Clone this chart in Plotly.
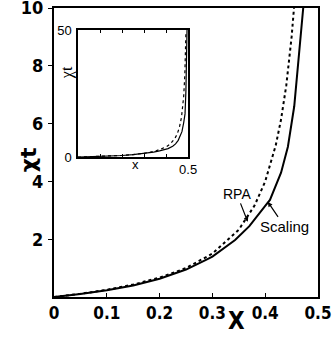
import plotly.graph_objects as go

# Data
rpa_x = [0, 0.05, 0.1, 0.15, 0.2, 0.25, 0.3, 0.35, 0.38, 0.4, 0.42, 0.43, 0.44, 0.45, 0.455, 0.46, 0.47, 0.48, 0.485, 0.49]
rpa_y = [0, 0.11, 0.25, 0.43, 0.67, 1.0, 1.5, 2.33, 3.17, 4.0, 5.25, 6.14, 7.33, 9.0, 10.1, 11.5, 15.7, 24.0, 32.3, 49.0]
sc_x = [0, 0.05, 0.1, 0.15, 0.2, 0.25, 0.286, 0.3, 0.343, 0.37, 0.4, 0.409, 0.43, 0.443, 0.455, 0.462, 0.468, 0.472, 0.48, 0.486, 0.49, 0.493, 0.495]
sc_y = [0, 0.1, 0.23, 0.4, 0.63, 0.95, 1.27, 1.4, 1.97, 2.45, 3.15, 3.36, 4.3, 5.2, 6.6, 8.0, 9.0, 10.0, 13.6, 17.0, 26.0, 35.0, 50.0]
x_ticks = [0, 0.1, 0.2, 0.3, 0.4, 0.5]
x_ticktext = ["0", "0.1", "0.2", "0.3", "0.4", "0.5"]
y_ticks = [2, 4, 6, 8, 10]
inset_x_ticks = [0, 0.1, 0.2, 0.3, 0.4, 0.5]
inset_x_ticktext = ["", "", "", "", "", "0.5"]
inset_y_ticks = [0, 50]

BOLD = "Liberation Sans Narrow, DejaVu Sans Condensed, sans-serif"
SANS = "Liberation Sans, Arial, sans-serif"

fig = go.Figure()
line_col = "black"
fig.add_trace(go.Scatter(x=rpa_x, y=rpa_y, mode="lines", line=dict(color=line_col, width=2, dash="dot"), showlegend=False))
fig.add_trace(go.Scatter(x=sc_x, y=sc_y, mode="lines", line=dict(color=line_col, width=2), showlegend=False))
fig.add_trace(go.Scatter(x=rpa_x, y=rpa_y, mode="lines", xaxis="x2", yaxis="y2", line=dict(color=line_col, width=1.2, dash="dot"), showlegend=False))
fig.add_trace(go.Scatter(x=sc_x, y=sc_y, mode="lines", xaxis="x2", yaxis="y2", line=dict(color=line_col, width=1.2), showlegend=False))

fig.update_layout(
    width=332, height=339,
    margin=dict(l=54, r=14, t=8, b=42, autoexpand=False),
    paper_bgcolor="white", plot_bgcolor="white",
    xaxis=dict(range=[0, 0.5], tickvals=x_ticks, ticktext=x_ticktext, ticks="inside", ticklen=4,
               tickcolor="black", showline=True, linecolor="black", linewidth=2, mirror=True,
               showgrid=False, zeroline=False, automargin=False, ticklabeloverflow="allow",
               ticklabelstandoff=0,
               tickfont=dict(family=BOLD, size=17, color="black", weight="bold")),
    yaxis=dict(range=[0, 10], tickvals=y_ticks, ticks="outside", ticklen=4, tickcolor="black",
               showline=True, linecolor="black", linewidth=2, mirror=True,
               showgrid=False, zeroline=False, automargin=False, ticklabeloverflow="allow",
               ticklabelstandoff=1,
               tickfont=dict(family=BOLD, size=18, color="black", weight="bold")),
    xaxis2=dict(domain=[0.091, 0.508], anchor="y2", range=[0, 0.5], tickvals=inset_x_ticks,
                ticktext=inset_x_ticktext, ticks="inside", ticklen=3, tickcolor="black",
                showline=True, linecolor="black", linewidth=1.5, mirror="allticks",
                showgrid=False, zeroline=False, automargin=False, ticklabeloverflow="allow",
                tickfont=dict(family=SANS, size=13, color="black")),
    yaxis2=dict(domain=[0.484, 0.924], anchor="x2", range=[0, 50], tickvals=inset_y_ticks,
                ticks="", showline=True, linecolor="black", linewidth=1.5, mirror=True,
                showgrid=False, zeroline=False, ticklabelstandoff=2, automargin=False,
                ticklabeloverflow="allow",
                tickfont=dict(family=SANS, size=13, color="black")),
    annotations=[
        dict(text="X", xref="paper", yref="paper", x=0.692, y=-0.083, showarrow=False,
             xanchor="center", yanchor="middle",
             font=dict(family=BOLD, size=24, color="black", weight="bold")),
        dict(text="χt", xref="paper", yref="paper", x=-0.098, y=0.474, showarrow=False, textangle=-90,
             xanchor="center", yanchor="middle",
             font=dict(family="DejaVu Sans, sans-serif", size=22, color="black", weight="bold")),
        dict(text="x", xref="paper", yref="paper", x=0.307, y=0.46, showarrow=False,
             xanchor="center", yanchor="middle",
             font=dict(family=SANS, size=13, color="black")),
        dict(text="χt", xref="paper", yref="paper", x=0.05, y=0.775, showarrow=False, textangle=-90,
             xanchor="center", yanchor="middle",
             font=dict(family="Liberation Serif, serif", size=16, color="black")),
        dict(text="RPA", x=0.367, y=2.6, xref="x", yref="y", ax=-11, ay=-28, showarrow=True,
             arrowhead=2, arrowsize=0.8, arrowwidth=1.2, arrowcolor="black",
             font=dict(family=SANS, size=14, color="black")),
        dict(text="Scaling", x=0.405, y=3.29, xref="x", yref="y", ax=17, ay=25, showarrow=True,
             arrowhead=2, arrowsize=0.8, arrowwidth=1.2, arrowcolor="black",
             font=dict(family=SANS, size=15, color="black")),
    ],
)

fig.write_html("out.html", config={"displayModeBar": False},
               post_script="document.body.style.margin='0px';")
